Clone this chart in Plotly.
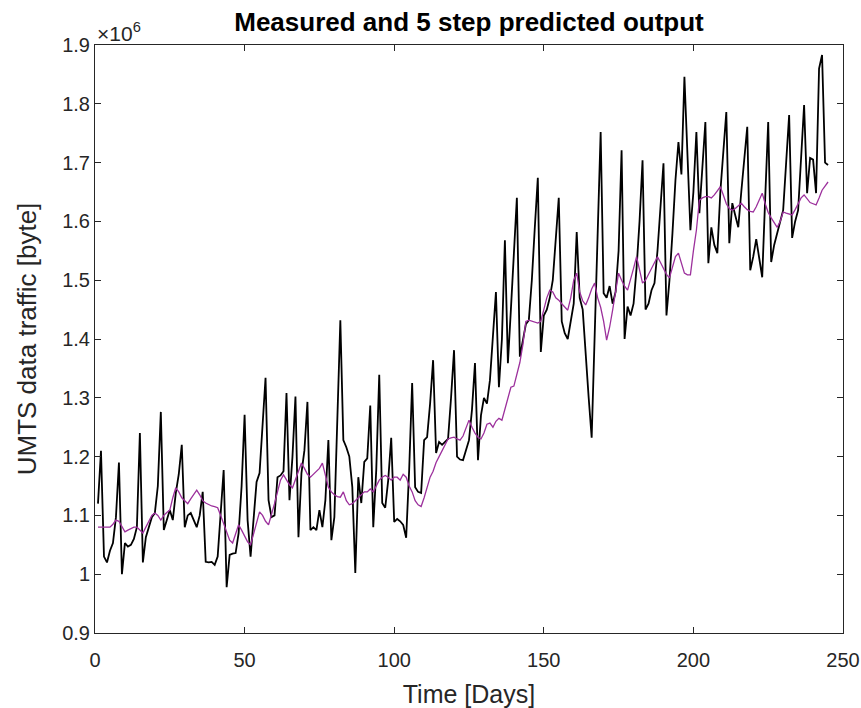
import plotly.graph_objects as go

# measured and predicted traffic, in units of 1e6 bytes (one value per day)
measured = [
    1.12, 1.21, 1.03, 1.02, 1.04, 1.053, 1.097, 1.19, 1.00, 1.053,
    1.047, 1.05, 1.06, 1.08, 1.24, 1.02, 1.063, 1.08, 1.097, 1.104,
    1.15, 1.276, 1.075, 1.092, 1.109, 1.092, 1.138, 1.17, 1.22, 1.08,
    1.10, 1.104, 1.092, 1.08, 1.10, 1.14, 1.021, 1.02, 1.021, 1.016,
    1.03, 1.10, 1.177, 0.978, 1.033, 1.035, 1.036, 1.07, 1.15, 1.271,
    1.092, 1.03, 1.10, 1.157, 1.172, 1.25, 1.334, 1.126, 1.097, 1.10,
    1.165, 1.168, 1.175, 1.308, 1.126, 1.20, 1.302, 1.063, 1.172, 1.211,
    1.293, 1.075, 1.08, 1.075, 1.109, 1.08, 1.126, 1.228, 1.058, 1.097,
    1.25, 1.432, 1.228, 1.216, 1.20, 1.148, 1.002, 1.165, 1.121, 1.191,
    1.197, 1.287, 1.08, 1.177, 1.339, 1.121, 1.113, 1.16, 1.232, 1.089,
    1.094, 1.09, 1.084, 1.062, 1.177, 1.325, 1.148, 1.14, 1.138, 1.228,
    1.233, 1.29, 1.364, 1.206, 1.225, 1.22, 1.225, 1.23, 1.30, 1.381,
    1.20, 1.195, 1.194, 1.21, 1.228, 1.28, 1.359, 1.194, 1.27, 1.30,
    1.29, 1.33, 1.40, 1.48, 1.318, 1.40, 1.568, 1.359, 1.45, 1.55,
    1.64, 1.37, 1.40, 1.425, 1.432, 1.50, 1.59, 1.674, 1.378, 1.44,
    1.45, 1.47, 1.50, 1.57, 1.64, 1.43, 1.41, 1.40, 1.43, 1.46,
    1.582, 1.47, 1.45, 1.37, 1.30, 1.232, 1.40, 1.58, 1.752, 1.478,
    1.47, 1.49, 1.46, 1.48, 1.55, 1.721, 1.40, 1.455, 1.44, 1.46,
    1.52, 1.60, 1.704, 1.45, 1.46, 1.483, 1.495, 1.55, 1.62, 1.699,
    1.44, 1.50, 1.58, 1.67, 1.735, 1.68, 1.846, 1.70, 1.585, 1.65,
    1.752, 1.614, 1.70, 1.769, 1.529, 1.59, 1.56, 1.546, 1.65, 1.72,
    1.786, 1.563, 1.631, 1.61, 1.59, 1.65, 1.71, 1.761, 1.517, 1.54,
    1.57, 1.54, 1.505, 1.64, 1.769, 1.531, 1.56, 1.58, 1.60, 1.619,
    1.70, 1.781, 1.572, 1.60, 1.619, 1.70, 1.798, 1.648, 1.708, 1.705,
    1.648, 1.86, 1.883, 1.70, 1.696,
]

predicted = [
    1.08, 1.08, 1.08, 1.08, 1.08, 1.085, 1.092, 1.09, 1.08, 1.072,
    1.075, 1.078, 1.08, 1.08, 1.075, 1.07, 1.08, 1.09, 1.10, 1.104,
    1.10, 1.092, 1.10, 1.105, 1.109, 1.13, 1.147, 1.14, 1.13, 1.125,
    1.12, 1.128, 1.135, 1.143, 1.135, 1.125, 1.121, 1.118, 1.116, 1.115,
    1.113, 1.10, 1.085, 1.07, 1.058, 1.053, 1.07, 1.084, 1.075, 1.065,
    1.055, 1.05, 1.07, 1.09, 1.106, 1.10, 1.09, 1.084, 1.10, 1.12,
    1.14, 1.16, 1.169, 1.16, 1.152, 1.147, 1.16, 1.175, 1.189, 1.18,
    1.17, 1.165, 1.17, 1.175, 1.18, 1.189, 1.17, 1.148, 1.14, 1.135,
    1.132, 1.131, 1.14, 1.125, 1.118, 1.12, 1.125, 1.13, 1.135, 1.14,
    1.14, 1.145, 1.14, 1.15, 1.16, 1.165, 1.168, 1.165, 1.16, 1.165,
    1.165, 1.16, 1.17, 1.165, 1.15, 1.14, 1.125, 1.118, 1.115, 1.13,
    1.15, 1.165, 1.175, 1.19, 1.20, 1.21, 1.222, 1.23, 1.232, 1.233,
    1.23, 1.228, 1.235, 1.25, 1.262, 1.25, 1.24, 1.233, 1.23, 1.24,
    1.255, 1.257, 1.25, 1.26, 1.265, 1.262, 1.28, 1.30, 1.318, 1.32,
    1.34, 1.36, 1.39, 1.43, 1.432, 1.43, 1.428, 1.427, 1.43, 1.45,
    1.47, 1.483, 1.48, 1.47, 1.466, 1.46, 1.455, 1.449, 1.47, 1.50,
    1.512, 1.48, 1.465, 1.458, 1.47, 1.485, 1.495, 1.47, 1.454, 1.43,
    1.398, 1.42, 1.449, 1.48, 1.512, 1.50, 1.49, 1.483, 1.50, 1.52,
    1.54, 1.52, 1.495, 1.50, 1.51, 1.52, 1.53, 1.54, 1.53, 1.52,
    1.51, 1.504, 1.52, 1.54, 1.546, 1.53, 1.512, 1.509, 1.509, 1.55,
    1.585, 1.636, 1.64, 1.642, 1.642, 1.64, 1.645, 1.652, 1.659, 1.645,
    1.63, 1.622, 1.619, 1.622, 1.627, 1.631, 1.625, 1.62, 1.617, 1.616,
    1.625, 1.638, 1.648, 1.63, 1.615, 1.606, 1.598, 1.59, 1.60, 1.616,
    1.614, 1.612, 1.611, 1.62, 1.63, 1.64, 1.645, 1.638, 1.632, 1.63,
    1.628, 1.64, 1.653, 1.66, 1.667,
]

days = list(range(1, len(measured) + 1))

x_ticks = [0, 50, 100, 150, 200, 250]
y_ticks = [0.9, 1.0, 1.1, 1.2, 1.3, 1.4, 1.5, 1.6, 1.7, 1.8, 1.9]
y_labels = ["0.9", "1", "1.1", "1.2", "1.3", "1.4", "1.5", "1.6", "1.7", "1.8", "1.9"]

FONT = "Liberation Sans, Arial, Helvetica, sans-serif"
AX = "#262626"

fig = go.Figure()

fig.add_trace(go.Scatter(
    x=days, y=measured, mode="lines",
    line=dict(color="black", width=1.8),
    name="measured"))

fig.add_trace(go.Scatter(
    x=days, y=predicted, mode="lines",
    line=dict(color="#9c309c", width=1.3),
    name="5 step predicted"))

axis_style = dict(
    showline=True, linecolor=AX, linewidth=1, mirror="ticks",
    ticks="inside", ticklen=6, tickcolor=AX, tickwidth=1,
    showgrid=False, zeroline=False,
    tickfont=dict(family=FONT, size=20, color=AX),
)

fig.update_xaxes(
    range=[0, 250], tickvals=x_ticks, ticklabelstandoff=9,
    title=dict(text="Time [Days]", font=dict(family=FONT, size=25, color=AX), standoff=16),
    **axis_style)

fig.update_yaxes(
    range=[0.9, 1.9], tickvals=y_ticks, ticktext=y_labels, ticklabelstandoff=0,
    title=dict(text="UMTS data traffic [byte]", font=dict(family=FONT, size=26, color=AX), standoff=18),
    **axis_style)

# MATLAB style exponent label
fig.add_annotation(
    text="×10<sup>6</sup>", xref="paper", yref="paper", x=0.0, y=1.0,
    xanchor="left", yanchor="bottom", showarrow=False, yshift=-2,
    font=dict(family=FONT, size=21, color=AX))

fig.update_layout(
    width=861, height=708,
    margin=dict(l=95, r=18, t=45, b=75, autoexpand=False),
    paper_bgcolor="white", plot_bgcolor="white",
    showlegend=False,
    title=dict(text="<b>Measured and 5 step predicted output</b>",
               x=0.5, xref="paper", xanchor="center",
               y=1 - 22 / 708, yref="container", yanchor="middle",
               font=dict(family=FONT, size=26, color="black")),
)

# drop the default page margin so the figure fills the window exactly
fig.write_html("out.html", config={"displayModeBar": False},
               post_script="document.body.style.margin = '0px';")
